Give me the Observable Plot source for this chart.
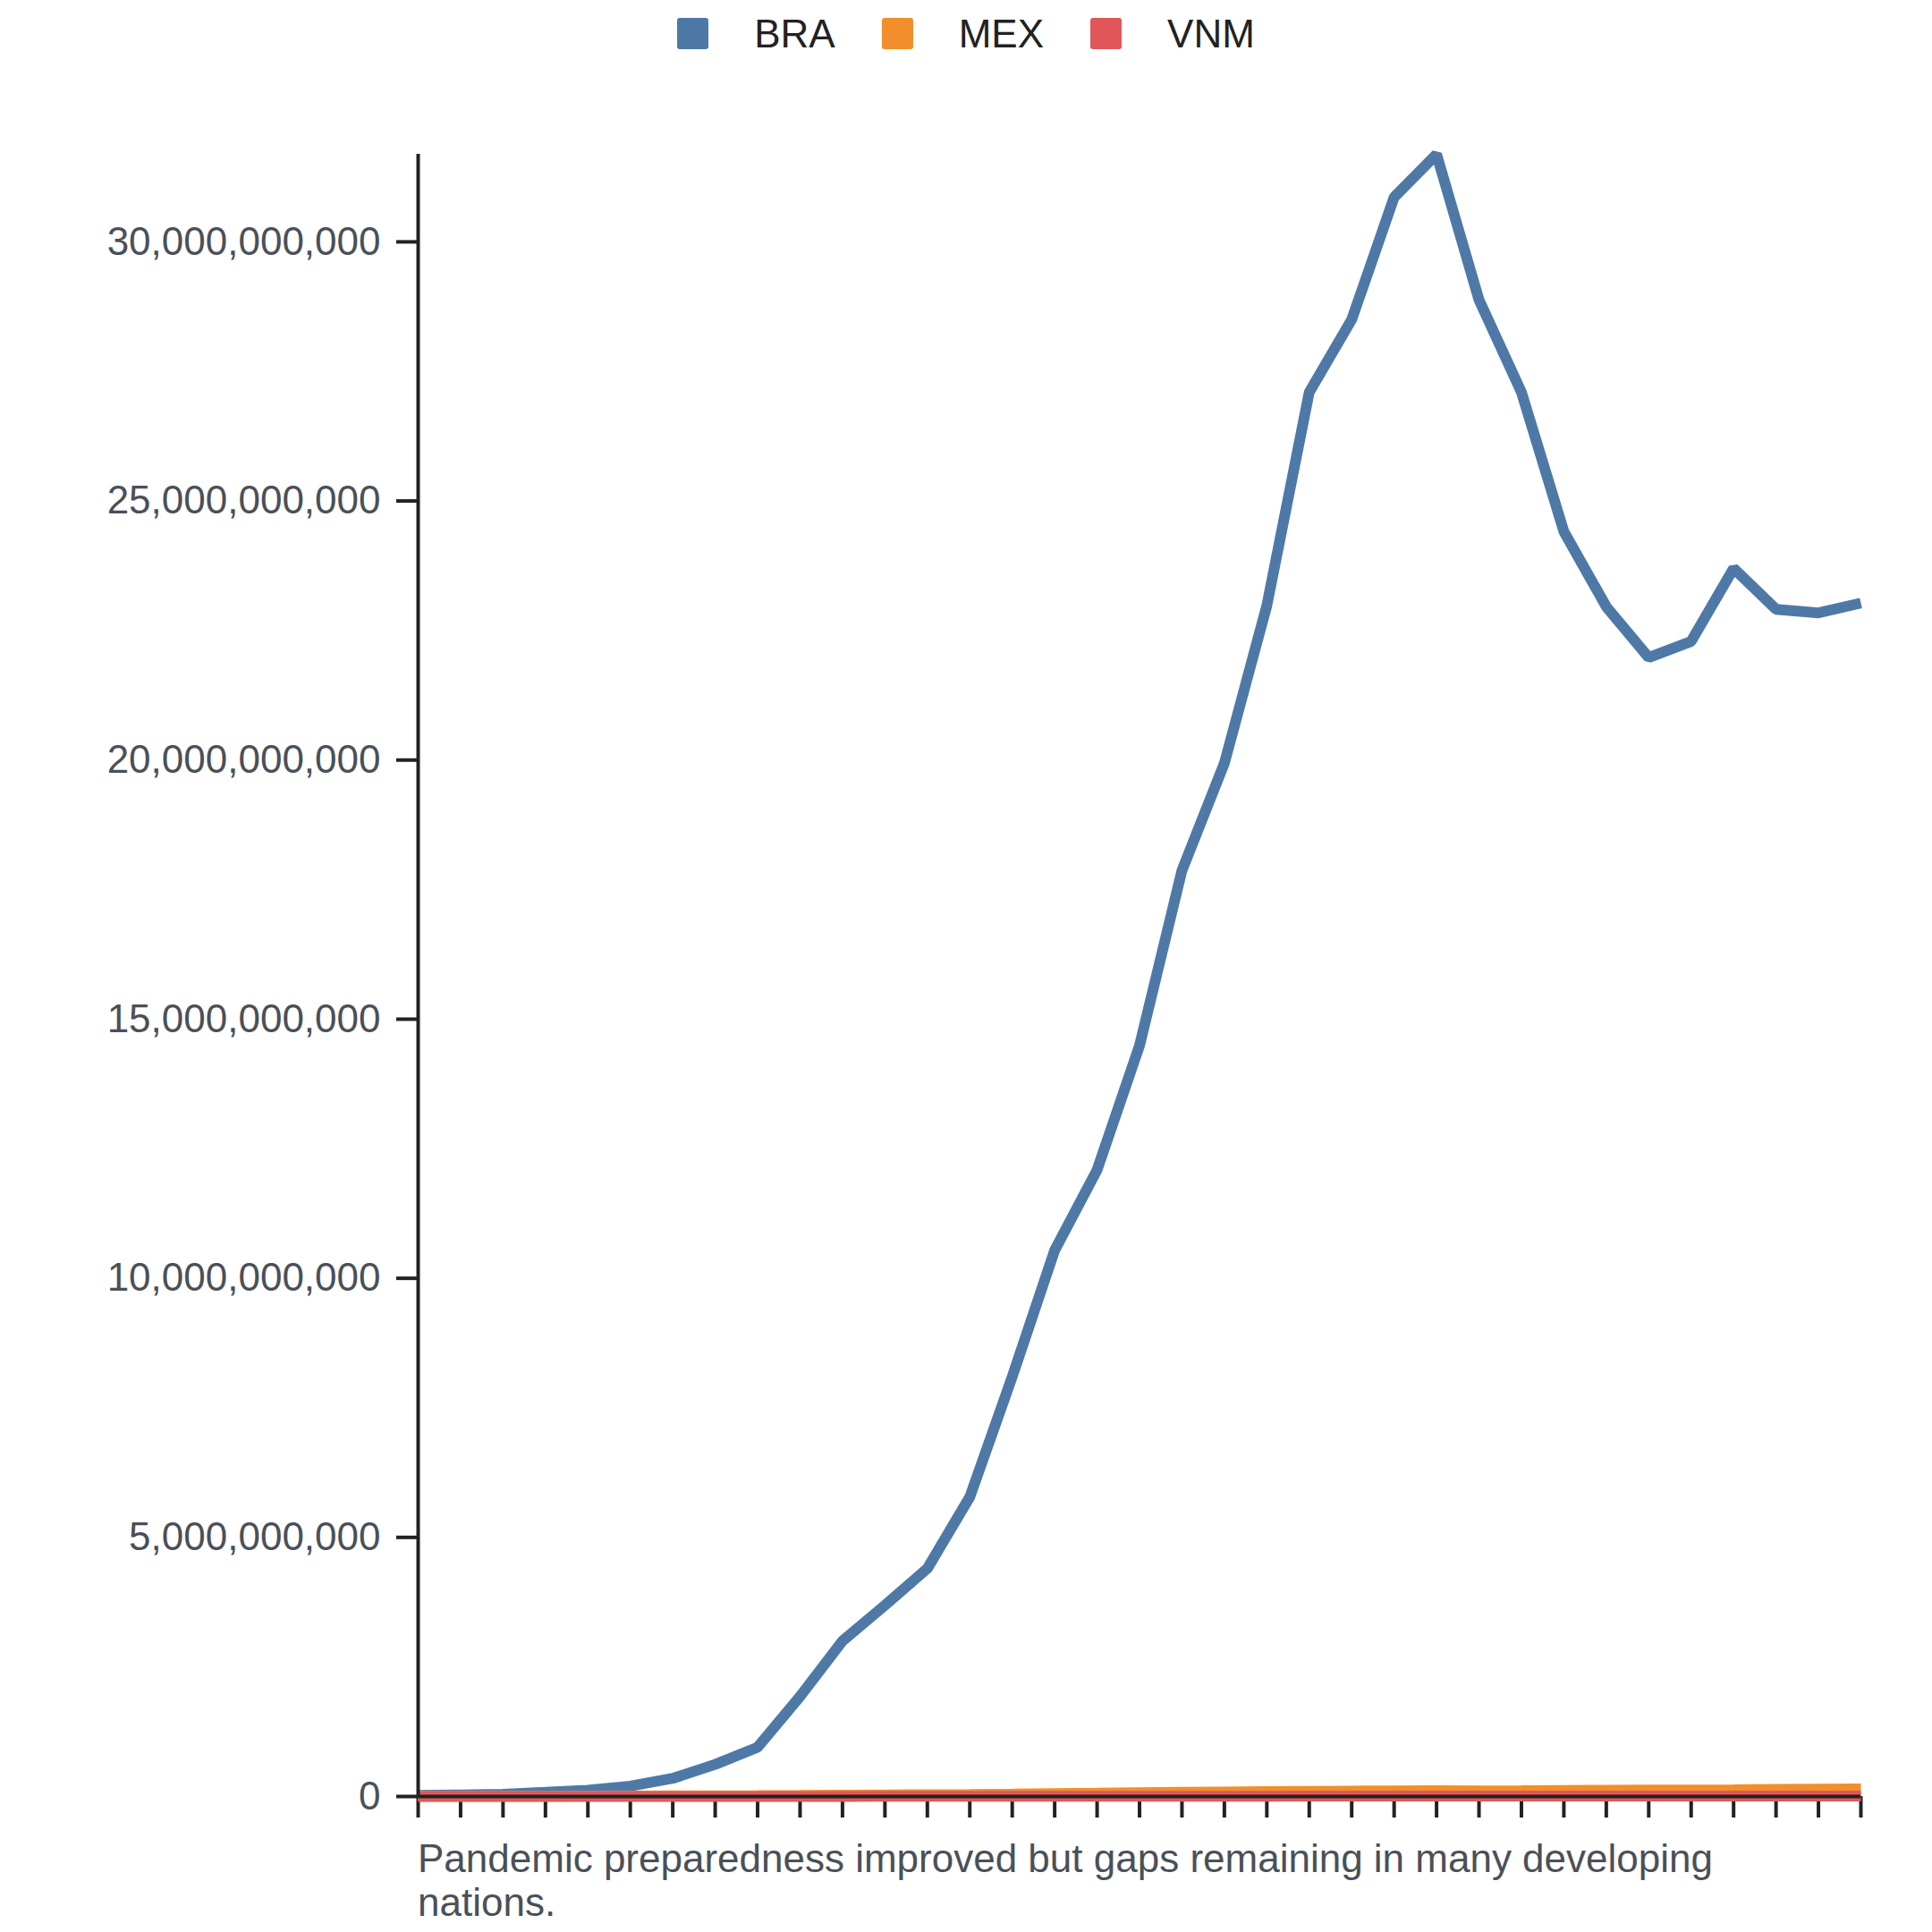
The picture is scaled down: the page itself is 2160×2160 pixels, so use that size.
<!DOCTYPE html>
<html>
<head>
<meta charset="utf-8">
<script src="https://cdn.jsdelivr.net/npm/d3@7"></script>
<script src="https://cdn.jsdelivr.net/npm/@observablehq/plot@0.6"></script>
<style>
  html, body { margin: 0; padding: 0; background: #fff; }
  body { width: 2160px; font-family: "Liberation Sans", Arial, sans-serif; }
  #legend { height: 75px; display: flex; align-items: center; justify-content: center; font-size: 44px; color: #222; }
  .item { display: flex; align-items: center; margin: 0 26px; }
  .sw { width: 35px; height: 35px; border-radius: 3px; margin-right: 51px; }
  #chart svg { display: block; }
  #caption { margin-left: 467px; width: 1613px; font-size: 44px; line-height: 49px; color: #4a5058; }
</style>
</head>
<body>
<div id="legend"></div>
<div id="chart"></div>
<div id="caption"></div>
<script>
const years = [1990,1991,1992,1993,1994,1995,1996,1997,1998,1999,2000,2001,2002,2003,2004,2005,2006,2007,2008,2009,2010,2011,2012,2013,2014,2015,2016,2017,2018,2019,2020,2021,2022,2023,2024];
const seriesNames = ["BRA", "MEX", "VNM"];
const seriesColors = ["#4e79a7", "#f28e2b", "#e15759"];
const BRA = [0.02e9,0.03e9,0.045e9,0.08e9,0.12e9,0.2e9,0.35e9,0.62e9,0.95e9,1.93e9,3.0e9,3.69e9,4.4e9,5.78e9,8.1e9,10.54e9,12.09e9,14.49e9,17.87e9,19.94e9,22.98e9,27.1e9,28.5e9,30.86e9,31.69e9,28.88e9,27.1e9,24.41e9,22.96e9,21.98e9,22.29e9,23.7e9,22.91e9,22.84e9,23.03e9];
const MEX = [0.003e9,0.004e9,0.005e9,0.006e9,0.008e9,0.009e9,0.011e9,0.013e9,0.016e9,0.02e9,0.025e9,0.03e9,0.035e9,0.04e9,0.047e9,0.055e9,0.063e9,0.072e9,0.08e9,0.088e9,0.095e9,0.1e9,0.105e9,0.11e9,0.112e9,0.11e9,0.113e9,0.117e9,0.12e9,0.123e9,0.126e9,0.13e9,0.136e9,0.142e9,0.148e9];
const VNM = [0.0005e9,0.0006e9,0.0007e9,0.0008e9,0.0009e9,0.001e9,0.0012e9,0.0014e9,0.0016e9,0.0018e9,0.002e9,0.0023e9,0.0026e9,0.003e9,0.0034e9,0.0038e9,0.0042e9,0.0047e9,0.0052e9,0.0057e9,0.0062e9,0.0067e9,0.0072e9,0.0077e9,0.008e9,0.0082e9,0.0085e9,0.0088e9,0.009e9,0.0093e9,0.0095e9,0.0097e9,0.01e9,0.0102e9,0.0105e9];
const yTicks = [0, 5e9, 10e9, 15e9, 20e9, 25e9, 30e9];
const captionText = "Pandemic preparedness improved but gaps remaining in many developing nations.";

const seriesValues = [BRA, MEX, VNM];
const data = [];
seriesNames.forEach((name, s) => {
  years.forEach((yr, i) => data.push({series: name, year: yr, value: seriesValues[s][i]}));
});
const yMax = d3.max(data, d => d.value);

// legend
const legend = document.getElementById("legend");
seriesNames.forEach((name, i) => {
  const it = document.createElement("div");
  it.className = "item";
  const sw = document.createElement("div");
  sw.className = "sw";
  sw.style.background = seriesColors[i];
  const tx = document.createElement("span");
  tx.textContent = name;
  it.appendChild(sw); it.appendChild(tx);
  legend.appendChild(it);
});

const chart = Plot.plot({
  width: 2160,
  height: 1978,
  marginLeft: 467,
  marginRight: 80,
  marginTop: 97,
  marginBottom: 45,
  style: {fontFamily: "'Liberation Sans', Arial, sans-serif", fontSize: "44px", background: "#fff", overflow: "visible"},
  x: {type: "linear", domain: [years[0], years[years.length - 1]]},
  y: {domain: [0, yMax]},
  color: {domain: seriesNames, range: seriesColors},
  marks: [
    Plot.axisY({ticks: yTicks, tickFormat: d3.format(","), tickSize: 24, tickPadding: 18, stroke: "#222", strokeWidth: 4, fill: "#4a5058", fontSize: 44, label: null}),
    Plot.axisX({ticks: years, tickSize: 24, stroke: "#222", strokeWidth: 4, fill: "none", label: null}),
    Plot.lineY(data, {x: "year", y: "value", z: "series", stroke: "series", strokeWidth: 12, strokeLinejoin: "miter", strokeLinecap: "butt"}),
    Plot.ruleX([years[0]], {y1: 0, y2: yMax, stroke: "#222", strokeWidth: 4}),
    Plot.ruleY([0], {x1: years[0], x2: years[years.length - 1], stroke: "#222", strokeWidth: 4})
  ]
});
document.getElementById("chart").appendChild(chart);
document.getElementById("caption").textContent = captionText;
</script>
</body>
</html>
